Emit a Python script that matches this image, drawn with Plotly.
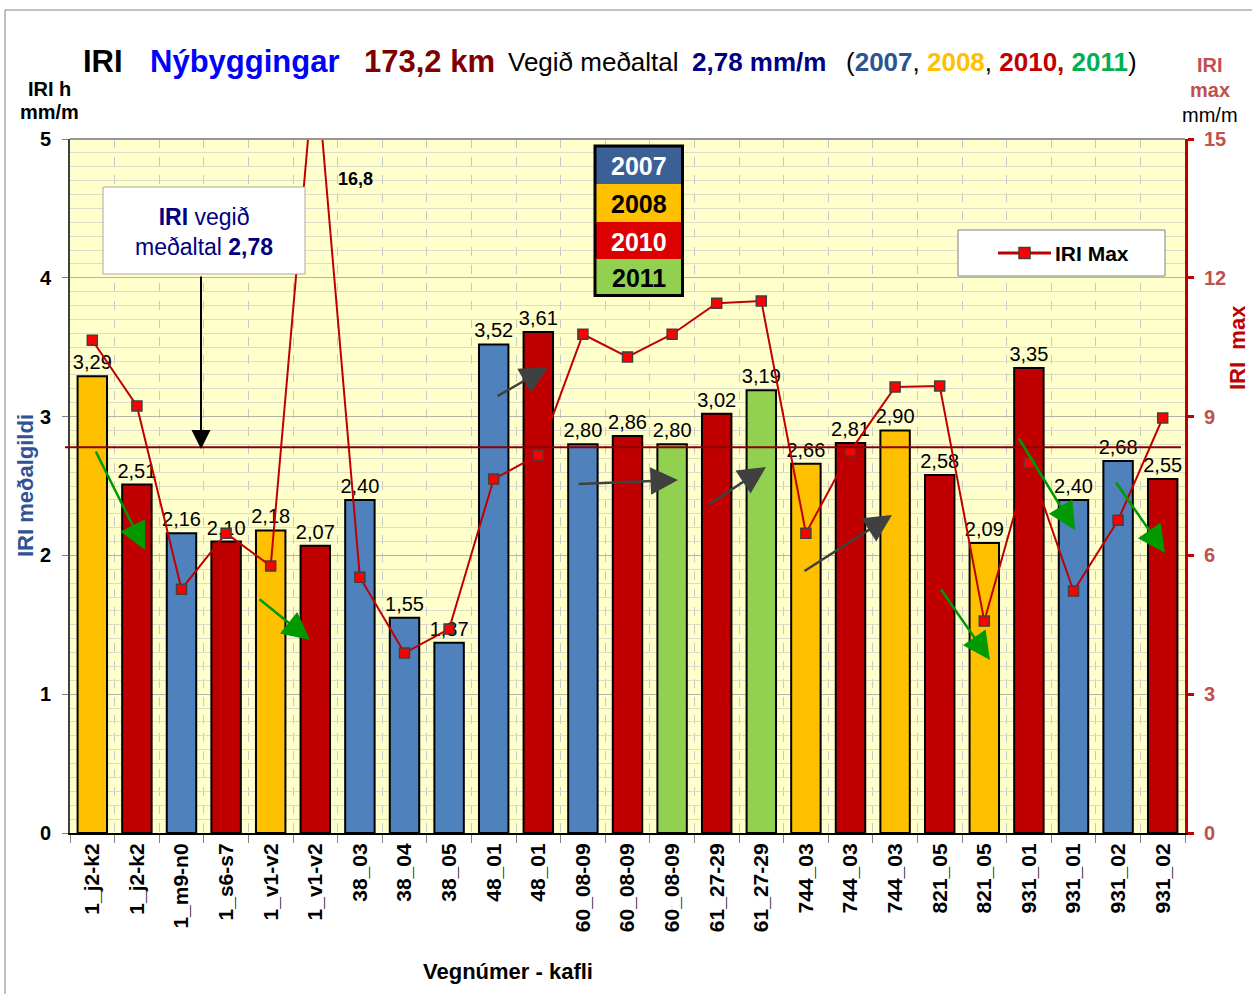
import plotly.graph_objects as go

# ---------------- data ----------------
categories = ["1_j2-k2", "1_j2-k2", "1_m9-n0", "1_s6-s7", "1_v1-v2", "1_v1-v2",
              "38_03", "38_04", "38_05", "48_01", "48_01", "60_08-09", "60_08-09",
              "60_08-09", "61_27-29", "61_27-29", "744_03", "744_03", "744_03",
              "821_05", "821_05", "931_01", "931_01", "931_02", "931_02"]
years = [2008, 2010, 2007, 2010, 2008, 2010, 2007, 2007, 2007, 2007, 2010, 2007, 2010,
         2011, 2010, 2011, 2008, 2010, 2008, 2010, 2008, 2010, 2007, 2007, 2010]
iri_mean = [3.29, 2.51, 2.16, 2.10, 2.18, 2.07, 2.40, 1.55, 1.37, 3.52, 3.61, 2.80, 2.86,
            2.80, 3.02, 3.19, 2.66, 2.81, 2.90, 2.58, 2.09, 3.35, 2.40, 2.68, 2.55]
iri_max = [10.65, 9.23, 5.27, 6.48, 5.77, 16.8, 5.53, 3.89, 4.41, 7.65, 8.17, 10.78, 10.29,
           10.78, 11.45, 11.50, 6.48, 8.26, 9.64, 9.66, 4.58, 8.00, 5.23, 6.76, 8.97]
weighted_avg = 2.78
year_colors = {2007: "#4F81BD", 2008: "#FFC000", 2010: "#C00000", 2011: "#92D050"}
left_ticks = [0, 1, 2, 3, 4, 5]
right_ticks = [0, 3, 6, 9, 12, 15]

FONT = "Liberation Sans, Arial, sans-serif"
W, H = 1252, 994
X0, X1, Y0, Y1 = 70, 1185, 139, 833  # plot area in pixels
NCAT = len(categories)
CW = (X1 - X0) / NCAT


def px(p):   # pixel x -> paper
    return (p - X0) / (X1 - X0)


def py(p):   # pixel y -> paper
    return (Y1 - p) / (Y1 - Y0)


def dx(p):   # pixel x -> data x
    return (p - X0) / CW - 0.5


def dy(p):   # pixel y -> data y (left axis)
    return (Y1 - p) / (Y1 - Y0) * 5


def label(xp, yp, text, size, color="black", xanchor="center", yanchor="middle", **kw):
    return dict(xref="paper", yref="paper", x=px(xp), y=py(yp), text=text,
                showarrow=False, xanchor=xanchor, yanchor=yanchor,
                font=dict(family=FONT, size=size, color=color), **kw)


xs = list(range(NCAT))
fig = go.Figure()

fig.add_trace(go.Bar(
    x=xs, y=iri_mean,
    marker=dict(color=[year_colors[y] for y in years], line=dict(color="black", width=2)),
    width=0.66,
    text=[f"{v:.2f}".replace(".", ",") for v in iri_mean],
    textposition="outside", constraintext="none",
    textfont=dict(family=FONT, size=20, color="black"),
    cliponaxis=False, showlegend=False, hoverinfo="skip",
))

fig.add_trace(go.Scatter(
    x=xs, y=iri_max, yaxis="y2", mode="lines+markers",
    line=dict(color="#C00000", width=2),
    marker=dict(symbol="square", size=10, color="#FF0000", line=dict(color="#404040", width=1.5)),
    showlegend=False, cliponaxis=True,
))

fig.update_layout(
    width=W, height=H,
    margin=dict(l=X0, r=W - X1, t=Y0, b=H - Y1, pad=0),
    paper_bgcolor="white", plot_bgcolor="#FFFFCC",
    font=dict(family=FONT, color="black"),
    showlegend=False, bargap=0.34,
    xaxis=dict(
        range=[-0.5, NCAT - 0.5], tickmode="array", tickvals=xs, ticktext=categories,
        tickangle=-90, tickfont=dict(family=FONT, size=21, color="black", weight="bold"),
        ticks="", showgrid=False, showline=True, linecolor="black", linewidth=2,
        zeroline=False,
        minor=dict(tick0=-0.5, dtick=1, ticks="outside", ticklen=8, tickcolor="#808080",
                   showgrid=True, gridcolor="#C8C8C8", griddash="dash", gridwidth=1),
    ),
    yaxis=dict(
        range=[0, 5], tickvals=left_ticks, ticks="outside", ticklen=6, tickcolor="#808080",
        tickfont=dict(family=FONT, size=20, color="black", weight="bold"),
        ticklabelstandoff=7,
        showgrid=True, gridcolor="#B4B4A8", gridwidth=1, zeroline=False,
        showline=True, linecolor="#404040", linewidth=2,
        minor=dict(dtick=0.1, showgrid=True, gridcolor="#DCDCC8", gridwidth=1),
    ),
    yaxis2=dict(
        range=[0, 15], tickvals=right_ticks, overlaying="y", side="right",
        ticks="outside", ticklen=6, tickwidth=3, tickcolor="#C00000",
        tickfont=dict(family=FONT, size=20, color="#C0504D", weight="bold"),
        ticklabelstandoff=6,
        showgrid=False, zeroline=False, showline=True, linecolor="#C00000", linewidth=3,
    ),
)

shapes = []
ann = []

# outer chart border (top and left visible)
shapes.append(dict(type="rect", xref="paper", yref="paper", x0=px(5), x1=px(1270),
                   y0=py(1010), y1=py(10), line=dict(color="#808080", width=1)))
# plot top border
shapes.append(dict(type="line", xref="paper", yref="paper", x0=0, x1=1, y0=1, y1=1,
                   line=dict(color="#969696", width=2)))
# weighted average line
shapes.append(dict(type="line", xref="paper", yref="y", x0=px(65), x1=px(1181),
                   y0=weighted_avg, y1=weighted_avg, line=dict(color="#8B0000", width=2)))

# "IRI vegið meðaltal" box
shapes.append(dict(type="rect", xref="paper", yref="paper", x0=px(103), x1=px(305),
                   y0=py(274), y1=py(187), fillcolor="white",
                   line=dict(color="#A6A6A6", width=1)))
ann.append(label(204, 232, "<b>IRI</b> vegið<br>meðaltal <b>2,78</b>", 23, "#000080",
                 align="center"))
ann.append(dict(xref="x", yref="y", axref="x", ayref="y",
                x=dx(201), y=dy(449), ax=dx(201), ay=dy(275),
                showarrow=True, arrowhead=2, arrowsize=1.9, arrowwidth=2, arrowcolor="black",
                text=""))

# 16,8 label
ann.append(label(336, 179, "<b>16,8</b>", 18, xanchor="left"))

# year legend box
cells = [(2007, 147, 184, "white"), (2008, 184, 222, "black"),
         (2010, 222, 259, "white"), (2011, 259, 294, "black")]
leg_cols = {2007: "#3B6096", 2008: "#FFC000", 2010: "#DD0000", 2011: "#92D050"}
for yr, a, b, tc in cells:
    shapes.append(dict(type="rect", xref="paper", yref="paper", x0=px(596), x1=px(681),
                       y0=py(b), y1=py(a), fillcolor=leg_cols[yr], line=dict(width=0)))
    ann.append(label(638.5, (a + b) / 2 + 1, f"<b>{yr}</b>", 25, tc))
shapes.append(dict(type="rect", xref="paper", yref="paper", x0=px(595), x1=px(682.5),
                   y0=py(295.5), y1=py(146), line=dict(color="black", width=3)))

# IRI Max legend
shapes.append(dict(type="rect", xref="paper", yref="paper", x0=px(958), x1=px(1165),
                   y0=py(276), y1=py(230), fillcolor="white",
                   line=dict(color="#808080", width=1)))
shapes.append(dict(type="line", xref="paper", yref="paper", x0=px(998), x1=px(1051),
                   y0=py(253), y1=py(253), line=dict(color="#C00000", width=3)))
shapes.append(dict(type="rect", xref="paper", yref="paper", x0=px(1019), x1=px(1030),
                   y0=py(258.5), y1=py(247.5), fillcolor="#FF0000",
                   line=dict(color="#404040", width=1.5)))
ann.append(label(1053, 253, "<b>IRI Max</b>", 21, xanchor="left"))

# title pieces
ann.append(label(81, 61, "<b>IRI</b>", 31, xanchor="left"))
ann.append(label(148, 61, "<b>Nýbyggingar</b>", 31, "#0000FF", xanchor="left"))
ann.append(label(362, 61, "<b>173,2 km</b>", 31, "#800000", xanchor="left"))
ann.append(label(506, 62, "Vegið meðaltal", 26, xanchor="left"))
ann.append(label(690, 62, "<b>2,78 mm/m</b>", 26, "#000080", xanchor="left"))
ann.append(label(844, 62, ("(<b><span style='color:#2B5592'>2007</span></b>, "
                           "<b><span style='color:#FFC000'>2008</span></b>, "
                           "<b><span style='color:#C00000'>2010,</span></b> "
                           "<b><span style='color:#00B050'>2011</span></b>)"),
                 26, xanchor="left"))

# axis side labels
ann.append(label(49, 89, "<b>IRI h</b>", 20))
ann.append(label(49, 112, "<b>mm/m</b>", 20))
ann.append(label(1210, 65, "<b>IRI</b>", 20, "#C0504D"))
ann.append(label(1210, 90, "<b>max</b>", 20, "#C0504D"))
ann.append(label(1210, 115, "mm/m", 20))
ann.append(label(25, 486, "<b>IRI meðalgildi</b>", 22, "#2F5496", textangle=-90))
ann.append(label(1237, 348, "<b>IRI  max</b>", 22, "#C00000", textangle=-90))
ann.append(label(508, 971, "<b>Vegnúmer - kafli</b>", 22))

# trend arrows (tail -> head, pixel positions)
green_arrows = [((95, 450), (145, 550)), ((258, 598), (310, 640)), ((940, 588), (990, 660)),
                ((1018, 437), (1075, 530)), ((1115, 481), (1165, 553))]
grey_arrows = [((496, 397), (548, 367)), ((577, 484), (678, 480)), ((708, 505), (766, 467)),
               ((803, 572), (892, 515))]
for arrows, col in ((green_arrows, "#009900"), (grey_arrows, "#404040")):
    for (tx, ty), (hx, hy) in arrows:
        ann.append(dict(xref="x", yref="y", axref="x", ayref="y",
                        x=dx(hx), y=dy(hy), ax=dx(tx), ay=dy(ty), text="",
                        showarrow=True, arrowhead=2, arrowsize=2.2, arrowwidth=2.5,
                        arrowcolor=col))

fig.update_layout(shapes=shapes, annotations=ann)
fig.write_html("out.html", config={"displayModeBar": False},
               post_script="document.body.style.margin='0px';")
